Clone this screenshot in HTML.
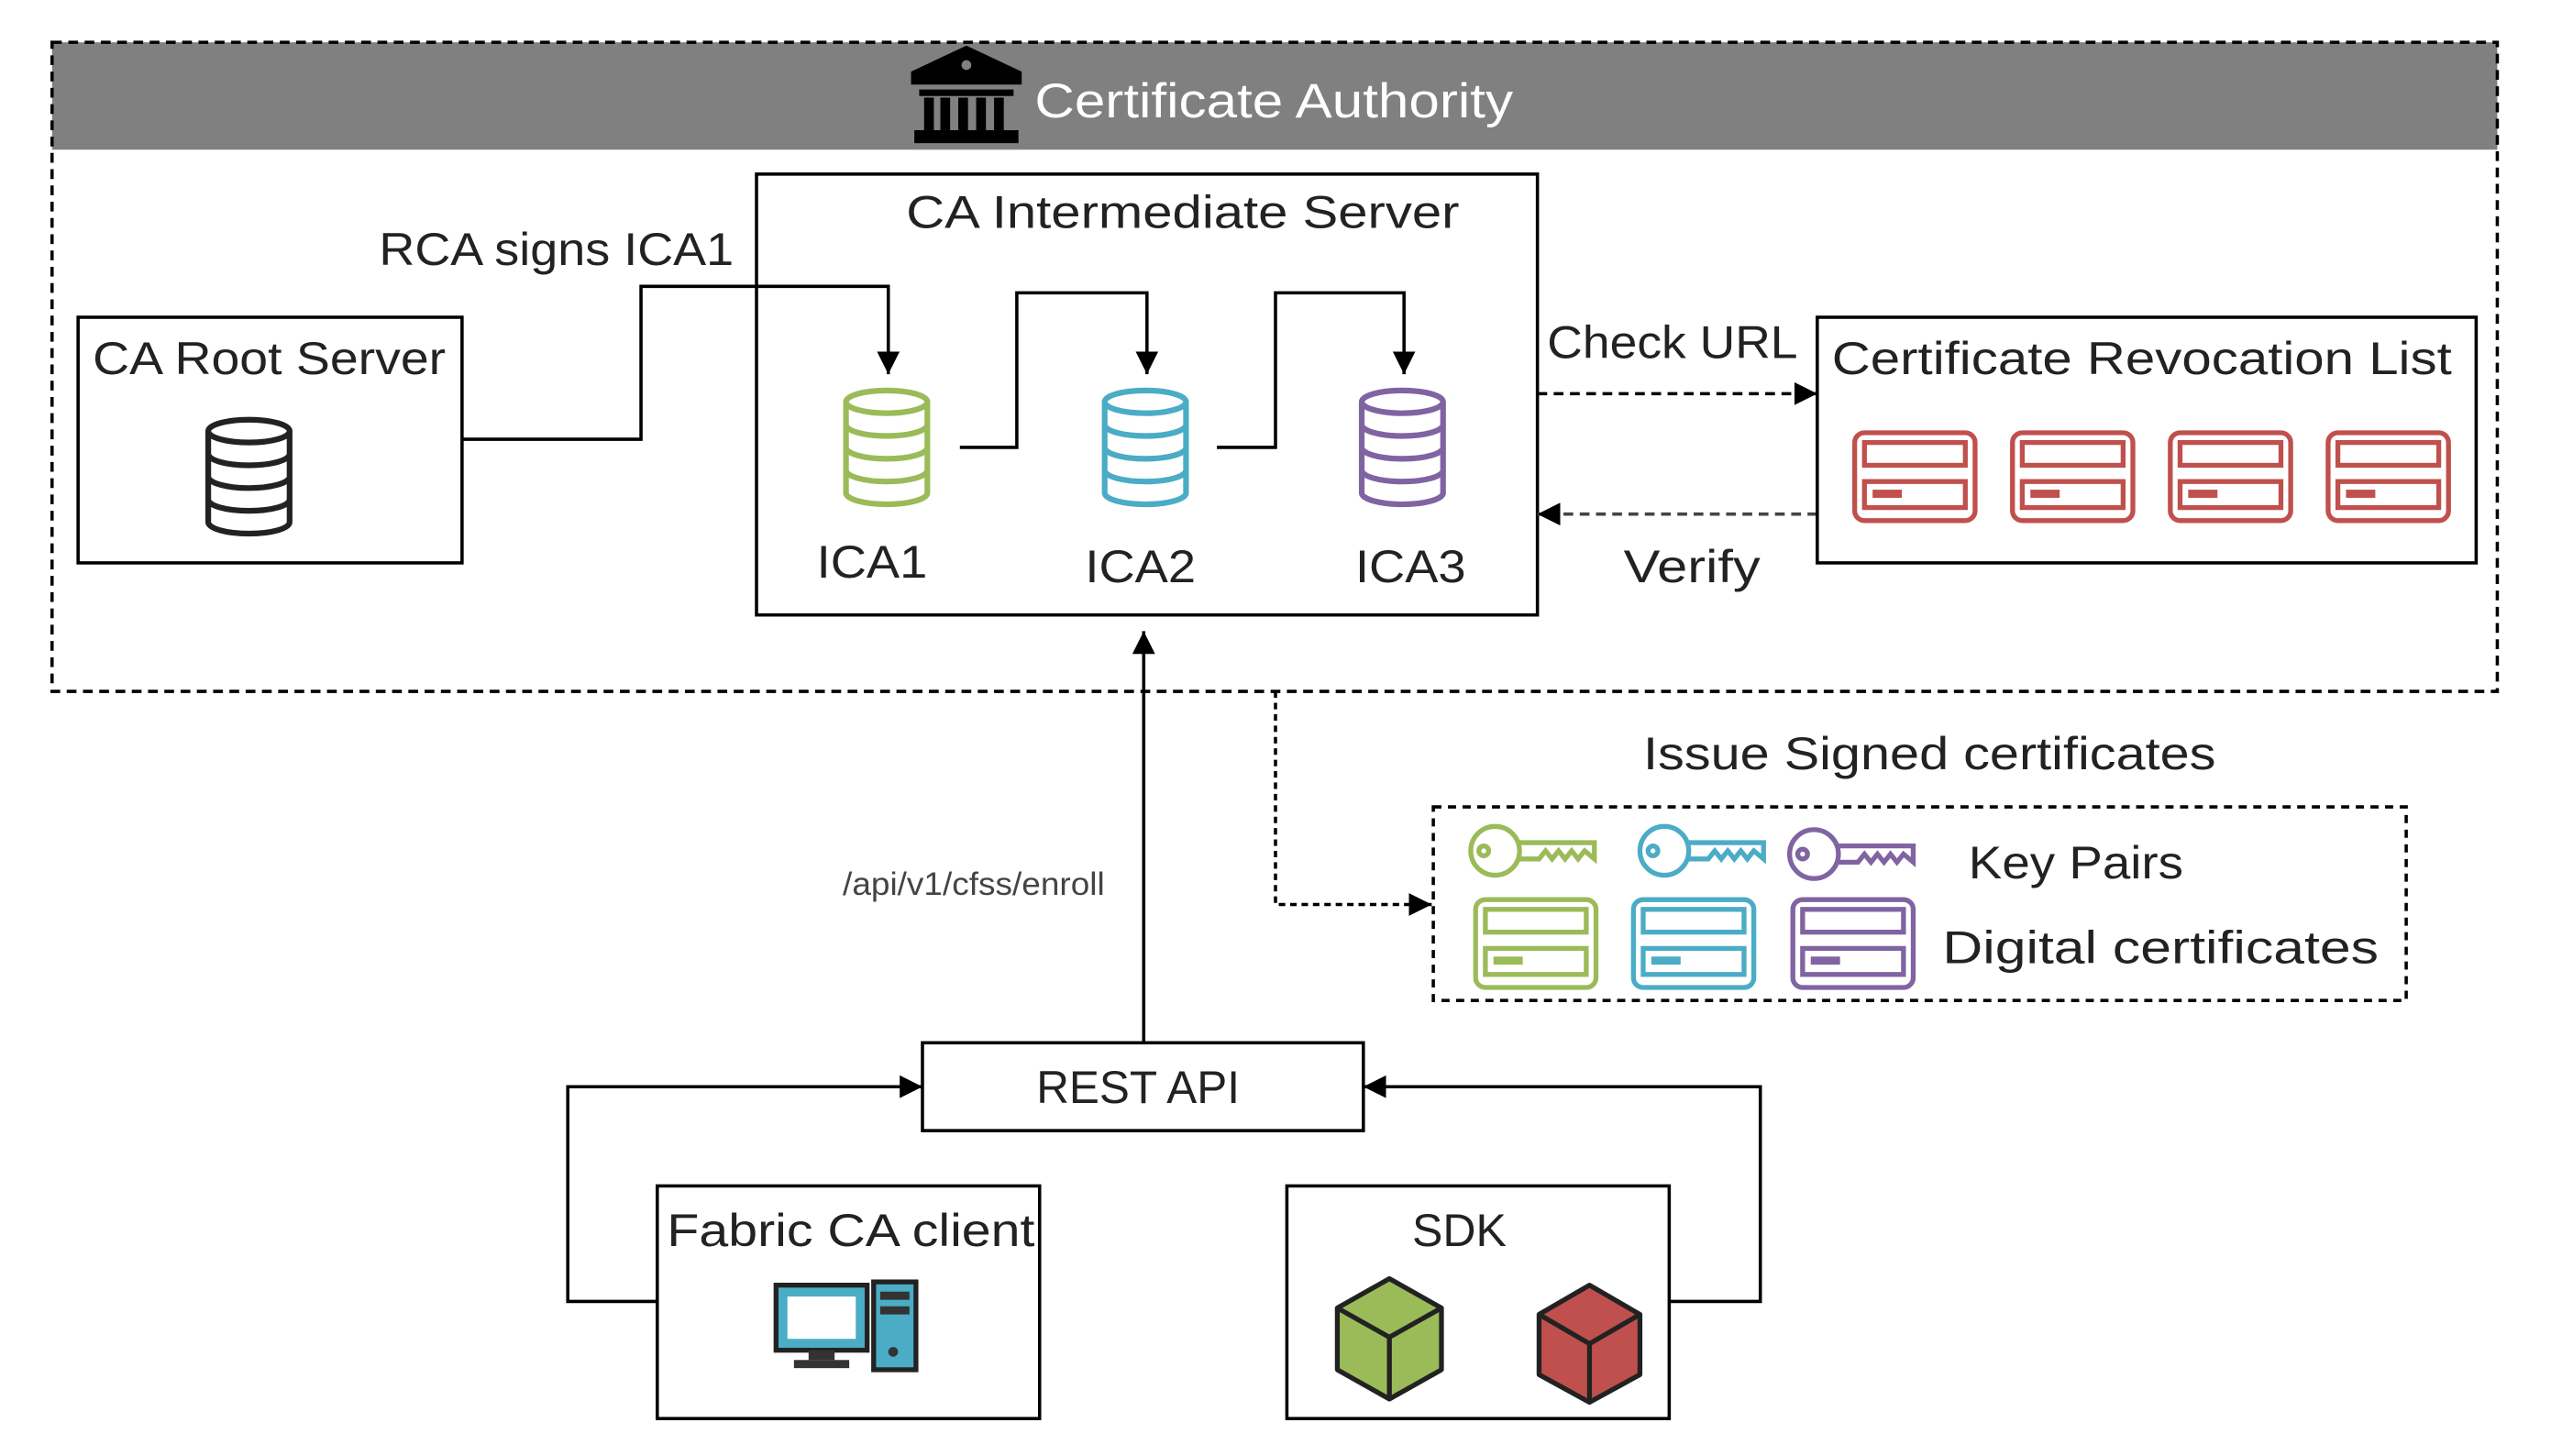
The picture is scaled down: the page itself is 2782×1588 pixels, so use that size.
<!DOCTYPE html>
<html><head><meta charset="utf-8"><style>html,body{margin:0;padding:0;background:#fff}svg{display:block}text{font-family:"Liberation Sans",sans-serif;fill:#222}</style></head><body>
<svg width="2782" height="1588" viewBox="0 0 1568 895" xmlns="http://www.w3.org/2000/svg">
<defs>
<marker id="a2" viewBox="0 0 10 10" refX="10" refY="5" markerWidth="14" markerHeight="14" orient="auto" markerUnits="userSpaceOnUse"><path d="M0,0L10,5L0,10z" fill="#000"/></marker>
<g id="db"><g fill="none" stroke-width="3.5"><ellipse cx="0" cy="-28" rx="25" ry="7"/><path d="M-25,-28v14a25,7 0 0 0 50,0v-14"/><path d="M-25,-14v14a25,7 0 0 0 50,0v-14"/><path d="M-25,0v14a25,7 0 0 0 50,0v-14"/><path d="M-25,14v14a25,7 0 0 0 50,0v-14"/></g></g>
<g id="cert"><rect x="0" y="0" width="74" height="54" rx="6" fill="none" stroke-width="3"/><rect x="6" y="6" width="62" height="14" fill="none" stroke-width="3"/><rect x="6" y="30" width="62" height="16" fill="none" stroke-width="3"/><rect x="11" y="35" width="18" height="5" stroke="none"/></g>
<g id="key" fill="none" stroke-width="3"><circle cx="17" cy="0" r="15"/><circle cx="10" cy="0" r="3"/><path d="M32,-5H78V5L72,0 68,5 64,0 60,5 56,0 52,5 48,0 44,5H32"/></g>
</defs>
<rect x="32" y="26" width="1503" height="66" fill="#808080"/>
<rect x="32" y="26" width="1503" height="399" fill="none" stroke="#000" stroke-width="2" stroke-dasharray="6,4"/>
<g fill="#000"><path d="M594,28L560,44V52H628V44Z"/><rect x="565" y="55" width="58" height="4"/><rect x="568" y="60" width="6" height="20"/><rect x="578" y="60" width="6" height="20"/><rect x="589" y="60" width="6" height="20"/><rect x="600" y="60" width="6" height="20"/><rect x="611" y="60" width="6" height="20"/><rect x="562" y="80" width="64" height="8"/></g>
<circle cx="594" cy="40" r="3" fill="#808080"/>
<text x="636" y="72" font-size="30" style="fill:#fff" textLength="294" lengthAdjust="spacingAndGlyphs">Certificate Authority</text>
<rect x="48" y="195" width="236" height="151" fill="none" stroke="#000" stroke-width="2"/>
<text x="57" y="230" font-size="28" textLength="217" lengthAdjust="spacingAndGlyphs">CA Root  Server</text>
<use href="#db" x="153" y="293" stroke="#222"/>
<rect x="465" y="107" width="480" height="271" fill="none" stroke="#000" stroke-width="2"/>
<text x="557" y="140" font-size="28" textLength="340" lengthAdjust="spacingAndGlyphs">CA Intermediate  Server</text>
<text x="233" y="163" font-size="28" textLength="218" lengthAdjust="spacingAndGlyphs">RCA signs ICA1</text>
<g fill="none" stroke="#000" stroke-width="2">
<path d="M284,270H394V176H546V230" marker-end="url(#a2)"/>
<path d="M590,275H625V180H705V230" marker-end="url(#a2)"/>
<path d="M748,275H784V180H863V230" marker-end="url(#a2)"/>
<path d="M703,640V388" marker-end="url(#a2)"/>
<path d="M945,242H1117" stroke-dasharray="6,4" marker-end="url(#a2)"/>
<path d="M1117,316H945" stroke-dasharray="6,4" stroke="#444" marker-end="url(#a2)"/>
<path d="M784,425V556H880" stroke-dasharray="4,3" marker-end="url(#a2)"/>
<path d="M404,800H349V668H567" marker-end="url(#a2)"/>
<path d="M1026,800H1082V668H838" marker-end="url(#a2)"/>
</g>
<use href="#db" x="545" y="275" stroke="#9BBB59"/>
<use href="#db" x="704" y="275" stroke="#4BACC6"/>
<use href="#db" x="862" y="275" stroke="#8064A2"/>
<text x="502" y="355" font-size="28" textLength="68" lengthAdjust="spacingAndGlyphs">ICA1</text>
<text x="667" y="358" font-size="28" textLength="68" lengthAdjust="spacingAndGlyphs">ICA2</text>
<text x="833" y="358" font-size="28" textLength="68" lengthAdjust="spacingAndGlyphs">ICA3</text>
<text x="951" y="220" font-size="28" textLength="154" lengthAdjust="spacingAndGlyphs">Check URL</text>
<text x="998" y="358" font-size="28" textLength="84" lengthAdjust="spacingAndGlyphs">Verify</text>
<rect x="1117" y="195" width="405" height="151" fill="none" stroke="#000" stroke-width="2"/>
<text x="1126" y="230" font-size="28" textLength="381" lengthAdjust="spacingAndGlyphs">Certificate Revocation List</text>
<g stroke="#C0504D" fill="#C0504D"><use href="#cert" x="1140" y="266"/><use href="#cert" x="1237" y="266"/><use href="#cert" x="1334" y="266"/><use href="#cert" x="1431" y="266"/></g>
<text x="518" y="550" font-size="20" style="fill:#444" textLength="161" lengthAdjust="spacingAndGlyphs">/api/v1/cfss/enroll</text>
<text x="1010" y="473" font-size="28" textLength="352" lengthAdjust="spacingAndGlyphs">Issue Signed certificates</text>
<rect x="881" y="496" width="598" height="119" fill="none" stroke="#000" stroke-width="2" stroke-dasharray="5,4"/>
<use href="#key" x="902" y="523" stroke="#9BBB59"/>
<use href="#key" x="1006" y="523" stroke="#4BACC6"/>
<use href="#key" x="1098" y="525" stroke="#8064A2"/>
<g><use href="#cert" x="907" y="553" stroke="#9BBB59" fill="#9BBB59"/><use href="#cert" x="1004" y="553" stroke="#4BACC6" fill="#4BACC6"/><use href="#cert" x="1102" y="553" stroke="#8064A2" fill="#8064A2"/></g>
<text x="1210" y="540" font-size="28" textLength="132" lengthAdjust="spacingAndGlyphs">Key Pairs</text>
<text x="1194" y="592" font-size="28" textLength="268" lengthAdjust="spacingAndGlyphs">Digital certificates</text>
<rect x="567" y="641" width="271" height="54" fill="none" stroke="#000" stroke-width="2"/>
<text x="637" y="678" font-size="28" textLength="125" lengthAdjust="spacingAndGlyphs">REST API</text>
<rect x="404" y="729" width="235" height="143" fill="none" stroke="#000" stroke-width="2"/>
<text x="410" y="766" font-size="28" textLength="226" lengthAdjust="spacingAndGlyphs">Fabric CA client</text>
<g><rect x="477" y="790" width="56" height="40" fill="#4BACC6" stroke="#222" stroke-width="3"/><rect x="484" y="797" width="42" height="26" fill="#fff"/><rect x="497" y="830" width="16" height="6" fill="#333"/><rect x="488" y="836" width="34" height="5" fill="#333"/><rect x="537" y="788" width="26" height="54" fill="#4BACC6" stroke="#222" stroke-width="3"/><rect x="541" y="794" width="18" height="5" fill="#333"/><rect x="541" y="803" width="18" height="5" fill="#333"/><circle cx="549" cy="831" r="3" fill="#333"/></g>
<rect x="791" y="729" width="235" height="143" fill="none" stroke="#000" stroke-width="2"/>
<text x="868" y="766" font-size="28" textLength="58" lengthAdjust="spacingAndGlyphs">SDK</text>
<g stroke="#222" stroke-width="3" stroke-linejoin="round"><path d="M854,786L886,804V842L854,860L822,842V804Z" fill="#9BBB59"/><path d="M822,804L854,822L886,804M854,822V860" fill="none"/><path d="M977,790L1008,808V845L977,862L946,845V808Z" fill="#C0504D"/><path d="M946,808L977,826L1008,808M977,826V862" fill="none"/></g>
</svg>
</body></html>
